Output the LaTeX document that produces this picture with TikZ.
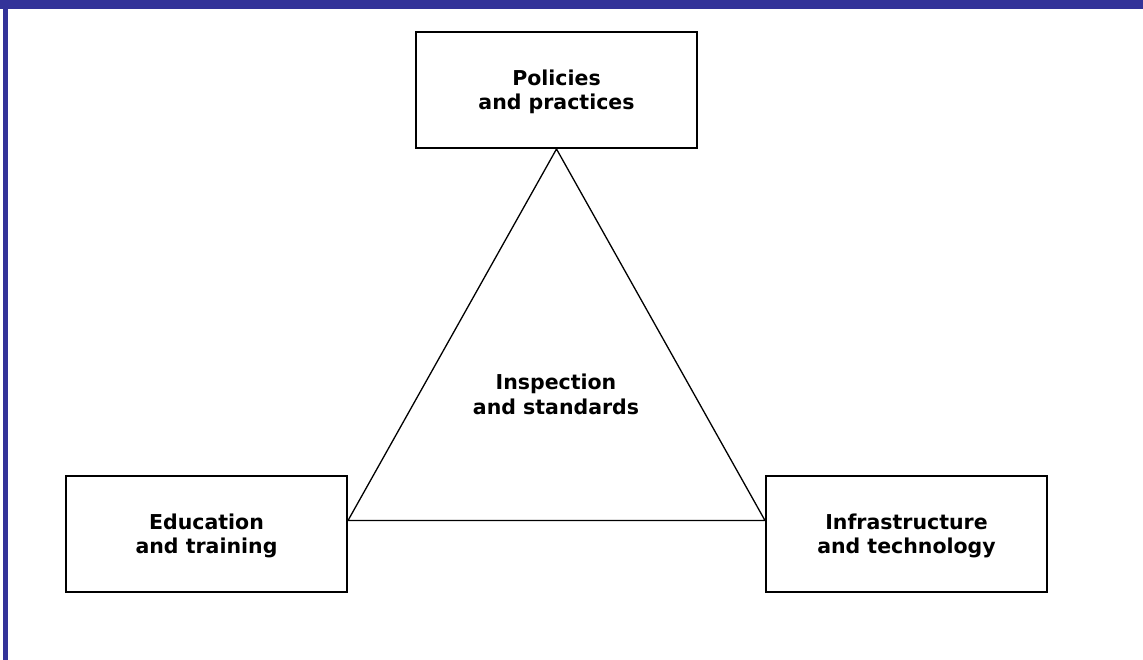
\documentclass[tikz,border=0pt]{standalone}
\usepackage{fontspec}
\setmainfont{DejaVu Sans}
\usetikzlibrary{calc}
\definecolor{frameblue}{RGB}{51,51,153}
\begin{document}
\begin{tikzpicture}[x=1pt,y=-1pt,
  box/.style={draw=black,line width=2pt,minimum width=281pt,minimum height=116pt,inner sep=0pt,
    align=center,font=\fontsize{20.5}{24}\selectfont\bfseries},
  lbl/.style={align=center,font=\fontsize{20.5}{25}\selectfont\bfseries},
  edge/.style={draw=black,line width=1.3pt}]
\useasboundingbox (0,0) rectangle (1143,660);
\fill[white] (0,0) rectangle (1143,660);
\fill[frameblue] (0,0) rectangle (1143,8.7);
\fill[frameblue] (2.7,0) rectangle (7.7,660);
\node[box,text depth=-4pt] (pol) at (556.5,90) {Policies\\and practices};
\node[box,text depth=-2pt] (edu) at (206.5,533.5) {Education\\and training};
\node[box,text depth=-2pt] (inf) at (906.5,533.5) {Infrastructure\\and technology};
\coordinate (A) at (pol.south);
\coordinate (B) at ($(edu.north east)!0.39!(edu.south east)$);
\coordinate (C) at ($(inf.north west)!0.39!(inf.south west)$);
\draw[edge] (A) -- (B) -- (C) -- cycle;
\node[lbl] (ins) at (556,394) {Inspection\\and standards};
\end{tikzpicture}
\end{document}
